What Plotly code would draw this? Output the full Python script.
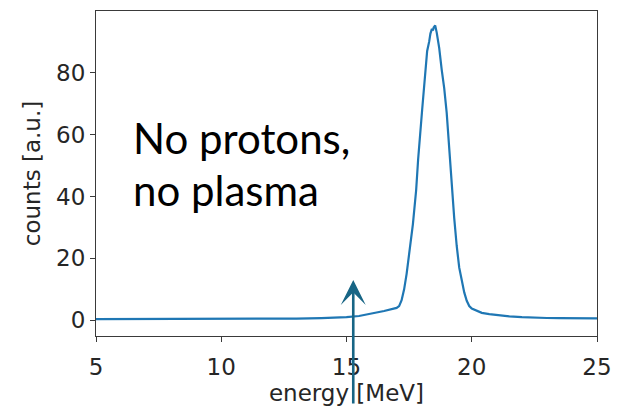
import plotly.graph_objects as go

# Proton energy spectrum (counts vs. energy)
energy_mev = [5.0, 6.0, 7.0, 8.0, 9.0, 10.0, 11.0, 12.0, 13.0, 14.0, 14.5, 15.0,
              15.5, 16.0, 16.5, 17.0, 17.1, 17.2, 17.3, 17.4, 17.5, 17.65, 17.78,
              17.86, 18.02, 18.15, 18.22, 18.3, 18.35, 18.41, 18.45, 18.48, 18.54,
              18.6, 18.7, 18.8, 18.9, 19.0, 19.1, 19.2, 19.3, 19.4, 19.5, 19.6,
              19.7, 19.8, 19.9, 20.0, 20.2, 20.4, 20.7, 21.0, 21.5, 22.0, 22.5,
              23.0, 23.5, 24.0, 24.5, 25.0]
counts_au = [0.4, 0.4, 0.45, 0.4, 0.45, 0.5, 0.45, 0.5, 0.55, 0.7, 0.85, 1.0,
             1.4, 2.1, 3.0, 4.0, 4.6, 6.5, 10.0, 15.0, 21.0, 31.0, 42.0,
             52.0, 68.0, 81.0, 87.0, 90.0, 92.6, 94.1, 93.6, 94.6, 95.2,
             93.0, 88.0, 81.0, 75.0, 67.0, 55.0, 43.0, 33.0, 24.0, 17.0, 13.0,
             9.0, 6.3, 4.6, 3.8, 3.0, 2.4, 2.0, 1.7, 1.3, 1.05, 0.85,
             0.75, 0.7, 0.65, 0.6, 0.6]

x_ticks = [5, 10, 15, 20, 25]
y_ticks = [0, 20, 40, 60, 80]
x_range = [5, 25]
y_range = [-5.07, 99.9]

caption_lines = ["No protons,", "no plasma"]
arrow_energy = 15.27
arrow_tip_counts = 13.0

axis_color = "#3a3a3a"
text_color = "#262626"
tick_font = dict(family="DejaVu Sans", size=23, color=text_color)
title_font = dict(family="DejaVu Sans", size=23, color=text_color)

fig = go.Figure()
fig.add_trace(go.Scatter(
    x=energy_mev, y=counts_au, mode="lines",
    line=dict(color="#1f77b4", width=2.2),
    showlegend=False, hoverinfo="skip",
))

fig.update_layout(
    width=622, height=408,
    margin=dict(l=96, r=18, t=10, b=67),
    paper_bgcolor="white", plot_bgcolor="white",
    xaxis=dict(
        range=x_range, tickvals=x_ticks, ticktext=[str(v) for v in x_ticks],
        showgrid=False, zeroline=False,
        showline=True, mirror=True, linecolor=axis_color, linewidth=1.2,
        ticks="outside", ticklen=5, tickwidth=1.2, tickcolor=axis_color,
        tickfont=tick_font, ticklabelstandoff=5,
        title=dict(text="energy [MeV]", font=title_font, standoff=2),
    ),
    yaxis=dict(
        range=y_range, tickvals=y_ticks, ticktext=[str(v) for v in y_ticks],
        showgrid=False, zeroline=False,
        showline=True, mirror=True, linecolor=axis_color, linewidth=1.2,
        ticks="outside", ticklen=5, tickwidth=1.2, tickcolor=axis_color,
        tickfont=tick_font,
        title=dict(text="counts [a.u.]", font=title_font, standoff=8),
    ),
)

# Caption text, one annotation per line
for i, line in enumerate(caption_lines):
    fig.add_annotation(
        text=line, xref="paper", yref="paper",
        x=(131 - 96) / 508, y=(341 - 139 - i * 53) / 331,
        xanchor="left", yanchor="middle", showarrow=False,
        font=dict(family="Lato", size=42, color="black"),
    )

# Upward arrow pointing at the low-energy region
fig.add_annotation(
    x=arrow_energy, y=arrow_tip_counts, xref="x", yref="y",
    text="", showarrow=True, ax=0, ay=125,
    arrowhead=3, arrowsize=1.6, arrowwidth=2.6, arrowcolor="#176585",
)

fig.write_html("out.html")
